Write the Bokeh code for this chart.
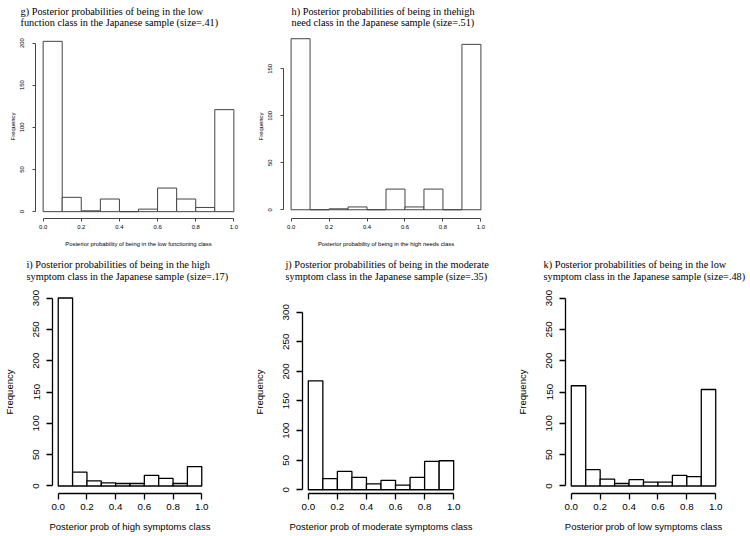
from bokeh.plotting import figure
from bokeh.models import Range1d, FixedTicker, PrintfTickFormatter
from bokeh.layouts import row, column
from bokeh.embed import file_html
from bokeh.resources import INLINE

# ---- data ----
bin_edges = [0.0, 0.1, 0.2, 0.3, 0.4, 0.5, 0.6, 0.7, 0.8, 0.9, 1.0]
x_ticks = [0.0, 0.2, 0.4, 0.6, 0.8, 1.0]

g_counts = [202, 17, 1, 15, 0, 3, 28, 15, 5, 121]
h_counts = [182, 0, 1, 3, 0, 22, 3, 22, 0, 176]
i_counts = [300, 22, 8, 5, 4, 4, 17, 12, 4, 31]
j_counts = [184, 19, 31, 21, 10, 16, 8, 21, 48, 49]
k_counts = [160, 26, 11, 4, 10, 6, 6, 17, 15, 154]

g_yticks = [0, 50, 100, 150, 200]
h_yticks = [0, 50, 100, 150]
bottom_yticks = [0, 50, 100, 150, 200, 250, 300]

# visible y windows of each panel (axis limits)
g_yview = (-8.1, 210.1)
h_yview = (-9.3, 186.5)
i_yview = (-12, 312)
j_yview = (-6.3, 336.7)
k_yview = (-12, 312)

g_title = "g) Posterior probabilities of being in the low\nfunction class in the Japanese sample (size=.41)"
h_title = "h) Posterior probabilities of being in thehigh\nneed class in the Japanese sample (size=.51)"
i_title = "i) Posterior probabilities of being in the high\nsymptom class in the Japanese sample (size=.17)"
j_title = "j) Posterior probabilities of being in the moderate\nsymptom class in the Japanese sample (size=.35)"
k_title = "k) Posterior probabilities of being in the low\nsymptom class in the Japanese sample (size=.48)"

g_xlabel = "Posterior probability of being in the low functioning class"
h_xlabel = "Posterior probability of being in the high needs class"
i_xlabel = "Posterior prob of high symptoms class"
j_xlabel = "Posterior prob of moderate symptoms class"
k_xlabel = "Posterior prob of low symptoms class"


def panel(counts, title, xlabel, yticks, yview, w, h, borders, t_offset, t_standoff,
          small):
    left, right, top, bottom = borders
    p = figure(width=w, height=h, output_backend="svg", toolbar_location=None,
               x_range=Range1d(-0.04, 1.04),
               y_range=Range1d(*yview),
               min_border_left=left, min_border_right=right,
               min_border_top=top, min_border_bottom=bottom,
               title=title)
    p.outline_line_color = None
    p.xgrid.visible = False
    p.ygrid.visible = False
    p.background_fill_color = "white"
    p.border_fill_color = "white"

    if small:
        lc, lw, tick, tfs, lfs, tlh = "#444444", 1, 3, "5.9px", "5.9px", 1.0
    else:
        lc, lw, tick, tfs, lfs, tlh = "black", 1.3, 6, "9.8px", "9.5px", 1.08

    p.quad(left=bin_edges[:-1], right=bin_edges[1:], top=counts, bottom=0,
           fill_color="white", line_color=lc, line_width=lw)

    p.title.align = "left"
    p.title.vertical_align = "top"
    p.title.offset = t_offset
    p.title.standoff = t_standoff
    p.title.text_font = "Liberation Serif"
    p.title.text_font_style = "normal"
    p.title.text_font_size = "10.3px"
    p.title.text_line_height = tlh
    p.title.text_color = "black"

    for ax in (p.xaxis[0], p.yaxis[0]):
        ax.axis_line_color = lc
        ax.axis_line_width = lw
        ax.major_tick_line_color = lc
        ax.major_tick_line_width = lw
        ax.minor_tick_line_color = None
        ax.major_tick_in = 0
        ax.major_tick_out = tick
        ax.major_label_text_font = "Liberation Sans"
        ax.major_label_text_font_size = tfs
        ax.major_label_text_color = "black"
        ax.axis_label_text_font = "Liberation Sans"
        ax.axis_label_text_font_size = lfs
        ax.axis_label_text_font_style = "normal"
        ax.axis_label_text_color = "black"

    xa = p.xaxis[0]
    xa.ticker = FixedTicker(ticks=x_ticks)
    xa.formatter = PrintfTickFormatter(format="%.1f")
    xa.bounds = (x_ticks[0], x_ticks[-1])
    xa.axis_label = xlabel

    ya = p.yaxis[0]
    ya.ticker = FixedTicker(ticks=yticks)
    ya.bounds = (yticks[0], yticks[-1])
    ya.major_label_orientation = "vertical"
    ya.axis_label = "Frequency"

    if small:
        xa.major_label_standoff = 3
        xa.axis_label_standoff = 9
        ya.major_label_standoff = 8
        ya.axis_label_standoff = 2
    else:
        xa.major_label_standoff = 4
        xa.axis_label_standoff = 8
        ya.major_label_standoff = 7
        ya.axis_label_standoff = 16
    return p


pg = panel(g_counts, g_title, g_xlabel, g_yticks, g_yview, 250, 250,
           (35, 9, 34, 32), -15, 9, True)
ph = panel(h_counts, h_title, h_xlabel, h_yticks, h_yview, 250, 250,
           (33, 12, 34, 32), 8, 9, True)
pi = panel(i_counts, i_title, i_xlabel, bottom_yticks, i_yview, 250, 286,
           (46, 43, 40, 43), -26, 13, False)
pj = panel(j_counts, j_title, j_xlabel, bottom_yticks, j_yview, 250, 286,
           (48, 41, 40, 43), -17, 13, False)
pk = panel(k_counts, k_title, k_xlabel, bottom_yticks, k_yview, 250, 286,
           (65, 29, 40, 43), -22, 13, False)

layout = column(row(pg, ph), row(pi, pj, pk))

open("out.html", "w").write(file_html(layout, INLINE))
